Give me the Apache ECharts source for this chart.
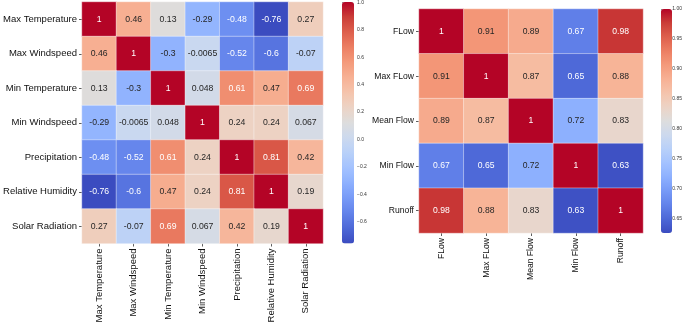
<!DOCTYPE html>
<html><head><meta charset="utf-8">
<script src="https://cdn.jsdelivr.net/npm/echarts@6/dist/echarts.min.js"></script>
<style>html,body{margin:0;padding:0;background:#fff}#c{width:685px;height:326px}</style>
</head><body><div id="c"></div>
<script>
// ---------- data ----------
const leftLabels = ['Max Temperature','Max Windspeed','Min Temperature','Min Windspeed','Precipitation','Relative Humidity','Solar Radiation'];
const leftMatrix = [
  [1, 0.46, 0.13, -0.29, -0.48, -0.76, 0.27],
  [0.46, 1, -0.3, -0.0065, -0.52, -0.6, -0.07],
  [0.13, -0.3, 1, 0.048, 0.61, 0.47, 0.69],
  [-0.29, -0.0065, 0.048, 1, 0.24, 0.24, 0.067],
  [-0.48, -0.52, 0.61, 0.24, 1, 0.81, 0.42],
  [-0.76, -0.6, 0.47, 0.24, 0.81, 1, 0.19],
  [0.27, -0.07, 0.69, 0.067, 0.42, 0.19, 1]
];
const leftRange = [-0.76, 1];
const leftCbarTicks = [-0.6, -0.4, -0.2, 0.0, 0.2, 0.4, 0.6, 0.8, 1.0];

const rightLabels = ['FLow','Max FLow','Mean Flow','Min Flow','Runoff'];
const rightMatrix = [
  [1, 0.91, 0.89, 0.67, 0.98],
  [0.91, 1, 0.87, 0.65, 0.88],
  [0.89, 0.87, 1, 0.72, 0.83],
  [0.67, 0.65, 0.72, 1, 0.63],
  [0.98, 0.88, 0.83, 0.63, 1]
];
const rightRange = [0.626, 1];
const rightCbarTicks = [0.65, 0.70, 0.75, 0.80, 0.85, 0.90, 0.95, 1.00];

// ---------- coolwarm colormap ----------
const CW = [[59,76,192],[77,104,215],[98,130,234],[119,154,247],[141,176,254],[163,194,255],[184,208,249],[204,217,238],[221,221,221],[236,211,197],[245,196,172],[247,177,148],[244,154,123],[236,127,99],[222,96,77],[203,62,56],[180,4,38]];
const cwHex = CW.map(c => 'rgb(' + c.join(',') + ')');
function cwAt(t){
  t = Math.max(0, Math.min(1, t));
  const p = t * (CW.length - 1), i = Math.min(Math.floor(p), CW.length - 2), f = p - i;
  return CW[i].map((v, k) => v + (CW[i+1][k] - v) * f);
}
function lum(rgb){
  const l = rgb.map(v => { v /= 255; return v <= 0.03928 ? v / 12.92 : Math.pow((v + 0.055) / 1.055, 2.4); });
  return 0.2126 * l[0] + 0.7152 * l[1] + 0.0722 * l[2];
}
function buildData(matrix, range){
  const out = [];
  matrix.forEach((row, r) => row.forEach((v, c) => {
    const t = (v - range[0]) / (range[1] - range[0]);
    const col = lum(cwAt(t)) > 0.408 ? '#262626' : '#ffffff';
    out.push({value: [c, r, v], label: {color: col}});
  }));
  return out;
}

const FONT = 'Liberation Sans';
function heatAxes(labels, gi, fs){
  return {
    x: {type:'category', data: labels, gridIndex: gi, position:'bottom',
        axisLine:{show:false}, axisTick:{show:true, length:3, alignWithLabel:true, lineStyle:{color:'#333', width:0.8}},
        axisLabel:{rotate:90, margin:5, fontSize:fs, color:'#111', fontFamily:FONT, interval:0},
        splitArea:{show:false}, splitLine:{show:false}},
    y: {type:'category', data: labels, gridIndex: gi, inverse:true,
        axisLine:{show:false}, axisTick:{show:true, length:3, alignWithLabel:true, lineStyle:{color:'#333', width:0.8}},
        axisLabel:{margin:5, fontSize:fs, color:'#111', fontFamily:FONT, interval:0},
        splitArea:{show:false}, splitLine:{show:false}}
  };
}
const L = heatAxes(leftLabels, 0, 9.5);
const R = heatAxes(rightLabels, 1, 8.6);

function cbarY(gi, range, ticks, dec){
  return {type:'value', gridIndex: gi, position:'right', min: range[0], max: range[1],
    axisLine:{show:false}, splitLine:{show:false},
    axisTick:{show:true, length:2, customValues: ticks, lineStyle:{color:'#444', width:0.6}},
    axisLabel:{show:true, margin:3, fontSize:5, color:'#333', fontFamily:FONT, customValues: ticks,
      formatter: v => (v < 0 ? '\u2212' : '') + Math.abs(v).toFixed(dec)}};
}

const chart = echarts.init(document.getElementById('c'), null, {renderer:'canvas'});
chart.setOption({
  animation:false,
  backgroundColor:'#fff',
  grid:[
    {left:82, top:2, width:241, height:241.5},
    {left:419, top:9, width:224, height:224},
    {left:342, top:2, width:12, height:241.5},
    {left:661, top:9, width:11, height:224}
  ],
  xAxis:[L.x, R.x,
    {type:'value', gridIndex:2, show:false, min:0, max:1},
    {type:'value', gridIndex:3, show:false, min:0, max:1}],
  yAxis:[L.y, R.y, cbarY(2, leftRange, leftCbarTicks, 1), cbarY(3, rightRange, rightCbarTicks, 2)],
  visualMap:[
    {type:'continuous', seriesIndex:0, min:leftRange[0], max:leftRange[1], calculable:false,
     left:342, top:2, itemWidth:12, itemHeight:241.5, padding:0, text:null, showLabel:false,
     inRange:{color: cwHex}},
    {type:'continuous', seriesIndex:1, min:rightRange[0], max:rightRange[1], calculable:false,
     left:661, top:9, itemWidth:11, itemHeight:224, padding:0, text:null, showLabel:false,
     inRange:{color: cwHex}}
  ],
  series:[
    {type:'heatmap', xAxisIndex:0, yAxisIndex:0, data: buildData(leftMatrix, leftRange),
     itemStyle:{borderColor:'rgba(255,255,255,0.8)', borderWidth:0.5},
     label:{show:true, fontSize:8.7, fontFamily:FONT, formatter: p => String(p.value[2])},
     emphasis:{disabled:true}},
    {type:'heatmap', xAxisIndex:1, yAxisIndex:1, data: buildData(rightMatrix, rightRange),
     itemStyle:{borderColor:'rgba(255,255,255,0.8)', borderWidth:0.5},
     label:{show:true, fontSize:8.6, fontFamily:FONT, formatter: p => String(p.value[2])},
     emphasis:{disabled:true}},
    {type:'scatter', xAxisIndex:2, yAxisIndex:2, data:[], silent:true},
    {type:'scatter', xAxisIndex:3, yAxisIndex:3, data:[], silent:true}
  ]
});
</script></body></html>
